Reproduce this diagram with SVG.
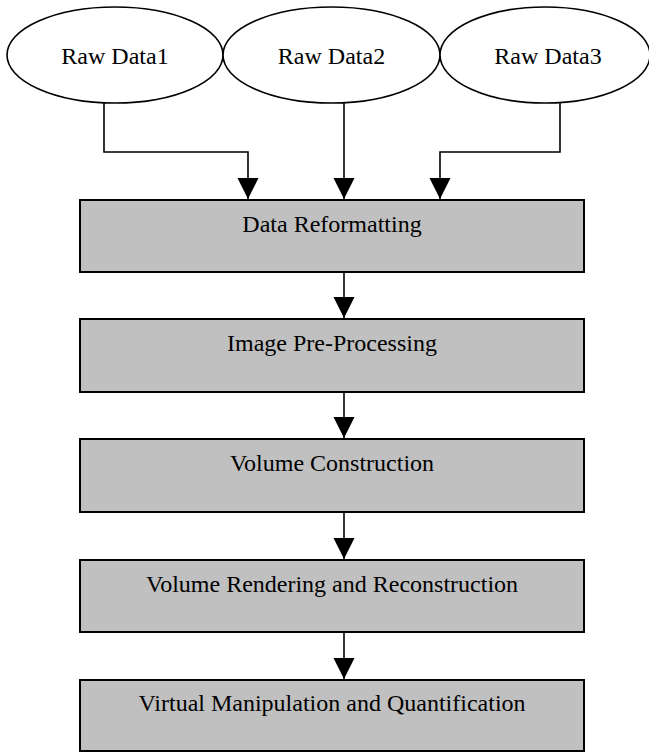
<svg xmlns="http://www.w3.org/2000/svg" width="649" height="753" viewBox="0 0 649 753">
  <style>
    .src ellipse { fill: #ffffff; stroke: #000000; stroke-width: 1.6; }
    .step rect { fill: #c0c0c0; stroke: #000000; stroke-width: 2; }
    text { font-family: "Liberation Serif", "Times New Roman", serif; font-size: 24px; fill: #000000; text-anchor: middle; }
    .wire { fill: none; stroke: #000000; stroke-width: 1.6; marker-end: url(#head); }
  </style>
  <defs>
    <marker id="head" markerUnits="userSpaceOnUse" markerWidth="22" markerHeight="22" refX="21" refY="10.5" orient="auto">
      <path d="M0,0 L21,10.5 L0,21 Z" fill="#000000"/>
    </marker>
  </defs>

  <rect width="649" height="753" fill="#ffffff"/>

  <!-- input sources -->
  <g id="raw-data-1" class="src">
    <ellipse cx="115" cy="55" rx="108" ry="48"/>
    <text x="115" y="64">Raw Data1</text>
  </g>
  <g id="raw-data-2" class="src">
    <ellipse cx="331.5" cy="55" rx="108.5" ry="48"/>
    <text x="331.5" y="64">Raw Data2</text>
  </g>
  <g id="raw-data-3" class="src">
    <ellipse cx="545" cy="55" rx="105" ry="48"/>
    <text x="548" y="64">Raw Data3</text>
  </g>

  <!-- processing stages -->
  <g id="data-reformatting" class="step">
    <rect x="80" y="200" width="504" height="72"/>
    <text x="332" y="232">Data Reformatting</text>
  </g>
  <g id="image-pre-processing" class="step">
    <rect x="80" y="319" width="504" height="73"/>
    <text x="332" y="351">Image Pre-Processing</text>
  </g>
  <g id="volume-construction" class="step">
    <rect x="80" y="439" width="504" height="73"/>
    <text x="332" y="471">Volume Construction</text>
  </g>
  <g id="volume-rendering" class="step">
    <rect x="80" y="560" width="504" height="72"/>
    <text x="332" y="592">Volume Rendering and Reconstruction</text>
  </g>
  <g id="virtual-manipulation" class="step">
    <rect x="80" y="680" width="504" height="71"/>
    <text x="332" y="711">Virtual Manipulation and Quantification</text>
  </g>

  <!-- connectors -->
  <g id="connectors">
    <path class="wire" d="M104,103 V152 H248 V199"/>
    <path class="wire" d="M344,103 V199"/>
    <path class="wire" d="M560,103 V152 H440 V199"/>
    <path class="wire" d="M344,272 V318"/>
    <path class="wire" d="M344,392 V438"/>
    <path class="wire" d="M344,512 V559"/>
    <path class="wire" d="M344,632 V679"/>
  </g>
</svg>
